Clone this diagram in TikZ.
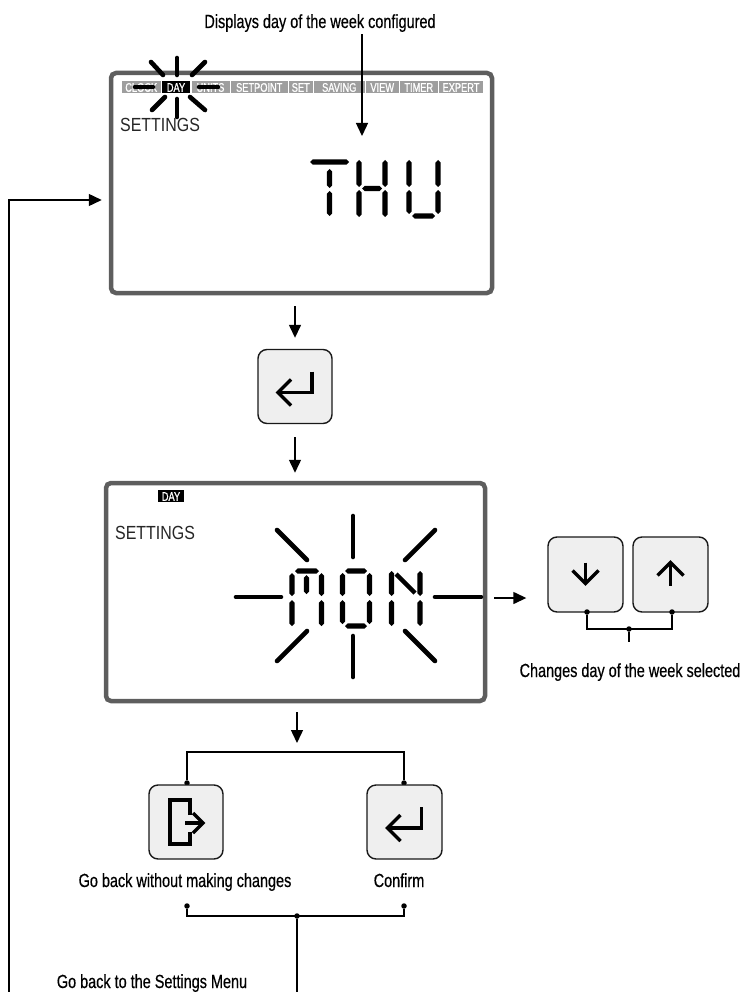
\documentclass[tikz,border=0pt]{standalone}
\usepackage{fontspec}
\setmainfont{Liberation Sans}
\newfontfamily\labfont{Liberation Sans}[FakeStretch=0.76,FakeBold=0.5]
\newfontfamily\menufont{Liberation Sans}[FakeStretch=0.74,FakeBold=1]
\newfontfamily\setfont{Liberation Sans}[FakeStretch=0.84]
\usetikzlibrary{arrows.meta}
\definecolor{lcdgray}{HTML}{5E5E5E}
\definecolor{btnfill}{HTML}{EFEFEF}
\definecolor{menugray}{HTML}{9E9E9E}
\newcommand\hsg[3]{\fill ({#1},{#3}) -- ({#1+2.7},{#3-2.7}) -- ({#2-2.7},{#3-2.7}) -- ({#2},{#3}) -- ({#2-2.7},{#3+2.7}) -- ({#1+2.7},{#3+2.7}) -- cycle;}
\newcommand\vsg[3]{\fill ({#1},{#2}) -- ({#1+2.7},{#2+2.7}) -- ({#1+2.7},{#3-2.7}) -- ({#1},{#3}) -- ({#1-2.7},{#3-2.7}) -- ({#1-2.7},{#2+2.7}) -- cycle;}
\newcommand\menuitem[4]{\fill[#4] (#1,81) rectangle (#2,93); \node[menutext] (m#3) at ({(#1+#2)/2},91.8) {#3};}
\tikzset{
  lcd/.style={draw=lcdgray, line width=4.5pt, rounded corners=5pt},
  btn/.style={draw=black!90, line width=1.4pt, fill=btnfill, rounded corners=9pt, minimum width=74pt, minimum height=74pt},
  conn/.style={line width=1.4pt},
  arr/.style={conn, -{Triangle[length=13pt,width=12pt]}},
  ray/.style={line width=4.6pt, line cap=round},
  icon/.style={line width=3.4pt},
  dot/.style={circle, fill=black, inner sep=0pt, minimum size=5.5pt},
  lbl/.style={font=\labfont\fontsize{19}{20}\selectfont, inner sep=0pt, anchor=base},
  menutext/.style={font=\menufont\fontsize{12.5}{12.5}\selectfont, text=white, inner sep=0pt, anchor=base},
  settext/.style={font=\setfont\fontsize{19}{20}\selectfont, text=black!85, inner sep=0pt, anchor=base west},
  entericon/.pic={\draw[icon] (17,-15) -- (17,6) -- (-16,6); \draw[icon] (-4,-7) -- (-17,6) -- (-4,19);},
  downicon/.pic={\draw[icon] (0,-12) -- (0,8); \draw[icon] (-13,-4) -- (0,9) -- (13,-4);},
  upicon/.pic={\draw[icon] (0,11) -- (0,-11); \draw[icon] (-13,1) -- (0,-12) -- (13,1);},
  exiticon/.pic={\draw[icon] (4,-7) -- (4,-22) -- (-16,-22) -- (-16,22) -- (4,22) -- (4,10);
                 \draw[icon] (-1,1) -- (15,1); \draw[icon] (7,-9) -- (17,1) -- (7,11);}
}
\begin{document}
\begin{tikzpicture}[x=1pt,y=-1pt]
\useasboundingbox (0,0) rectangle (742,992);

% ---------- top label ----------
\node[lbl] (toplbl) at (320,28) {Displays day of the week configured};

% ---------- LCD 1 ----------
\node[lcd, minimum width=381pt, minimum height=220pt] (lcd1) at (301.5,183) {};
\menuitem{122}{160.5}{CLOCK}{menugray}
\menuitem{162}{190}{DAY}{black}
\menuitem{191.5}{229.5}{UNITS}{menugray}
\menuitem{231}{287.5}{SETPOINT}{menugray}
\menuitem{289}{312.5}{SET}{menugray}
\menuitem{314}{364.5}{SAVING}{menugray}
\menuitem{366}{398.5}{VIEW}{menugray}
\menuitem{400}{437.5}{TIMER}{menugray}
\menuitem{439}{483}{EXPERT}{menugray}
% flash around DAY
\draw[ray] (177,58) -- (177,75);
\draw[ray] (177,99) -- (177,117);
\draw[ray] (135,87) -- (153,87);
\draw[ray] (199,87) -- (218,87);
\draw[ray] (151,62) -- (163,75);
\draw[ray] (192,75) -- (205,62);
\draw[ray] (152,110) -- (165,97);
\draw[ray] (190,97) -- (205,110);
\node[settext] (set1) at (120,132) {SETTINGS};
% THU
\hsg{310}{349}{162}
\vsg{329.5}{169}{188}
\vsg{329.5}{191}{216}
\vsg{359}{160}{187}
\vsg{359}{190}{217}
\vsg{385}{160}{187}
\vsg{385}{190}{217}
\hsg{362}{382}{188.5}
\vsg{409}{160}{187}
\vsg{409}{190}{214}
\vsg{438}{160}{187}
\vsg{438}{190}{214}
\hsg{412}{435}{216}
\coordinate (thuPt) at (362,136);
\draw[arr] (toplbl.south -| thuPt) ++(0,2) -- (thuPt);

% loop back into LCD 1
\coordinate (loopL) at (9,992);
\coordinate (inY) at (0,200);
\draw[arr] (loopL) |- ([xshift=-7pt]lcd1.west |- inY);

% ---------- enter button ----------
\node[btn] (ent1) at (295,386.5) {};
\pic at (ent1.center) {entericon};
\draw[arr] (ent1.north |- lcd1.south) ++(0,11) -- ([yshift=11pt]ent1.north);

% ---------- LCD 2 ----------
\node[lcd, minimum width=379pt, minimum height=218pt] (lcd2) at (295.5,592) {};
\draw[arr] (ent1.south) ++(0,13) -- ([yshift=8pt]ent1.south |- lcd2.north);
\fill[black] (158,490) rectangle (184,502);
\node[menutext] (day2) at (171,500.8) {DAY};
\node[settext] (set2) at (115,539) {SETTINGS};
% flash around MON
\draw[ray] (353,516) -- (353,557);
\draw[ray] (353,636) -- (353,677);
\draw[ray] (236,597) -- (281,597);
\draw[ray] (435,597) -- (481,597);
\draw[ray] (277,530) -- (307,560);
\draw[ray] (435,530) -- (405,560);
\draw[ray] (307,631) -- (277,661);
\draw[ray] (405,631) -- (435,661);
% MON
\hsg{295}{319}{571}
\vsg{292}{573}{596}
\vsg{292}{600}{626}
\vsg{321.5}{573}{596}
\vsg{321.5}{600}{626}
\vsg{306.5}{575}{594}
\hsg{345}{367}{571}
\vsg{342.5}{573}{596}
\vsg{342.5}{600}{624}
\vsg{369.5}{573}{596}
\vsg{369.5}{600}{624}
\hsg{345}{367}{626}
\vsg{391.5}{571}{596}
\vsg{391.5}{600}{626}
\vsg{420}{571}{596}
\vsg{420}{600}{626}
\draw[line width=4.5pt] (396,574) -- (415,593);

% ---------- up / down ----------
\node[btn, minimum width=75pt, minimum height=75pt] (bdown) at (585.5,574.5) {};
\node[btn, minimum width=75pt, minimum height=75pt] (bup) at (670.5,574.5) {};
\pic at (bdown.center) {downicon};
\pic at (bup.center) {upicon};
\coordinate (raY) at (0,598);
\draw[arr] ([xshift=7pt]lcd2.east |- raY) -- ([xshift=-21pt]bdown.west |- raY);
\node[dot] (d6) at (587,612) {};
\node[dot] (d7) at (672,612) {};
\node[dot] (d8) at (629,629) {};
\coordinate (stub) at (629,642);
\draw[conn] (d6) -- (d6 |- d8) -- (d7 |- d8) -- (d7);
\draw[conn] (d8) -- (stub);
\node[lbl] (chg) at (630,677) {Changes day of the week selected};

% ---------- branch ----------
\node[dot] (d1) at (187,783) {};
\node[dot] (d2) at (404,783) {};
\coordinate (brY) at (0,752);
\coordinate (brX) at (297,0);
\draw[arr] (lcd2.south -| brX) ++(0,9) -- ([yshift=9pt]brX |- brY);
\draw[conn] (d1) -- (d1 |- brY) -- (d2 |- brY) -- (d2);
\node[btn] (bexit) at (186,822) {};
\node[btn, minimum width=75pt] (ent2) at (404.5,822) {};
\pic at (bexit.center) {exiticon};
\pic at (ent2.center) {entericon};
\node[lbl] (goback) at (185,887) {Go back without making changes};
\node[lbl] (confirm) at (399,887) {Confirm};

% ---------- bottom bracket ----------
\node[dot] (d3) at (187,906) {};
\node[dot] (d4) at (404,906) {};
\node[dot] (d5) at (297,916) {};
\draw[conn] (d3) -- (d3 |- d5) -- (d4 |- d5) -- (d4);
\draw[conn] (d5) -- (d5 |- loopL);
\node[lbl] (menu) at (152,988) {Go back to the Settings Menu};
\end{tikzpicture}
\end{document}
